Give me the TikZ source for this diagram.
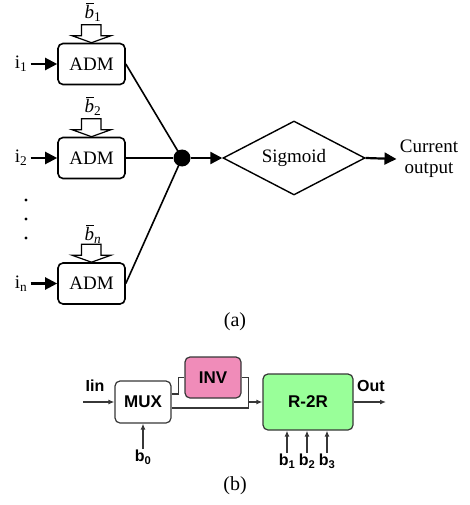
\documentclass[tikz,border=0pt]{standalone}
\usepackage{fontspec}
\setmainfont{Liberation Serif}
\setsansfont{Liberation Sans}
\usetikzlibrary{arrows.meta,shapes.geometric}

\definecolor{invpink}{RGB}{240,140,185}
\definecolor{rgreen}{RGB}{153,255,153}
\definecolor{wiregray}{RGB}{55,55,55}

% italic b with a bar over it, then the bit index
\newcommand{\wbar}[1]{\setbox0=\hbox{\itshape b}\rlap{\hspace{0.15\wd0}\raisebox{\dimexpr\ht0+1.5pt\relax}{\rule{0.85\wd0}{0.8pt}}}\box0\textsubscript{#1}}

\begin{document}
\begin{tikzpicture}[x=1pt,y=-1pt,
    lbl/.style={font=\fontsize{19}{21}\selectfont},
    adm/.style={draw,line width=1.6pt,rounded corners=5pt,minimum width=67pt,minimum height=41pt,inner sep=0pt,lbl},
    fat/.style={line width=2.2pt,-{Triangle[length=12pt,width=12pt]}},
    blbl/.style={font=\sffamily\bfseries\fontsize{16}{18}\selectfont},
    blk/.style={draw=wiregray,line width=1.2pt,rounded corners=5pt,inner sep=0pt,font=\sffamily\bfseries\fontsize{17}{20}\selectfont},
    wire/.style={wiregray,line width=1.2pt},
    sarrow/.style={wire,-{Latex[length=6pt,width=5pt]}}]
  \useasboundingbox (0,0) rectangle (469,505);

  % (a) weighted inputs into the sigmoid
  \node[adm] (adm1) at (91.5,64) {ADM};
  \node[adm] (adm2) at (91.5,158) {ADM};
  \node[adm] (admn) at (91.5,283.5) {ADM};
  \node[lbl] (wb1) at (93,12) {\wbar{1}};
  \node[lbl] (wb2) at (93,106) {\wbar{2}};
  \node[lbl] (wbn) at (93,234) {\wbar{\itshape n}};
  \foreach \a in {adm1,adm2,admn}
    \draw[line width=1.2pt,fill=white] (\a.north) ++(-10,-18) -- ++(0,11) -- ++(-9.5,0) -- (\a.north) -- ++(19.5,-7) -- ++(-10,0) -- ++(0,-11) -- cycle;

  \node[lbl] (i1) at (21,64) {i\textsubscript{1}};
  \node[lbl] (i2) at (21,158) {i\textsubscript{2}};
  \node[lbl] (in) at (21,283.5) {i\textsubscript{n}};
  \draw[fat] (i1.east) -- (adm1.west);
  \draw[fat] (i2.east) -- (adm2.west);
  \draw[fat] (in.east) -- (admn.west);
  \foreach \y in {200,219,238}
    \fill (26,\y) circle (1.6);

  \node[circle,fill,minimum size=17pt,inner sep=0pt] (sum) at (182,158) {};
  \draw[line width=1.6pt] (adm1.east) -- (sum.center);
  \draw[line width=2.4pt] (adm2.east) -- (sum);
  \draw[line width=1.6pt] (admn.east) -- (sum.center);

  \node[diamond,draw,line width=1.4pt,aspect=2,minimum width=142pt,minimum height=74pt,inner sep=0pt,lbl] (sig) at (294,158) {Sigmoid};
  \draw[fat] (sum) -- (sig.west);
  \node[lbl,align=center] (cur) at (429,159) {Current\\output};
  \draw[fat] (sig.east) -- (cur.west);
  \node[font=\fontsize{20}{22}\selectfont] (capa) at (235,322) {(a)};

  % (b) current-mode DAC
  \node[blk,fill=white,minimum width=56pt,minimum height=42pt] (mux) at (143,402) {MUX};
  \node[blk,fill=invpink,minimum width=56pt,minimum height=41pt] (inv) at (213,377.5) {INV};
  \node[blk,fill=rgreen,minimum width=90pt,minimum height=56pt] (r2r) at (308,402) {R-2R};

  \node[blbl] (iin) at (95,386) {Iin};
  \coordinate (src) at (83,402);
  \draw[sarrow] (src) -- (mux.west);
  \node[blbl] (out) at (371,386) {Out};
  \coordinate (snk) at (386,402);
  \draw[sarrow] (r2r.east) -- (snk);

  \draw[wire] ([yshift=8pt]mux.east) -- ++(7,0) |- (inv.west);
  \draw[wire] (inv.east) -- ++(7,0) |- ([yshift=-6pt]mux.east);
  \coordinate (jn) at (248,402);
  \draw[sarrow] (jn) -- (r2r.west);

  \node[blbl,anchor=north,inner sep=1pt] (b0) at (143,449) {b\textsubscript{0}};
  \draw[sarrow] (b0.north) -- (mux.south);
  \node[blbl,anchor=north,inner sep=1pt] (b1) at (287,453) {b\textsubscript{1}};
  \node[blbl,anchor=north,inner sep=1pt] (b2) at (307,453) {b\textsubscript{2}};
  \node[blbl,anchor=north,inner sep=1pt] (b3) at (327,453) {b\textsubscript{3}};
  \foreach \b in {b1,b2,b3}
    \draw[sarrow] (\b.north) -- (\b.north |- r2r.south);

  \node[font=\fontsize{20}{22}\selectfont] (capb) at (235,486) {(b)};
\end{tikzpicture}
\end{document}
